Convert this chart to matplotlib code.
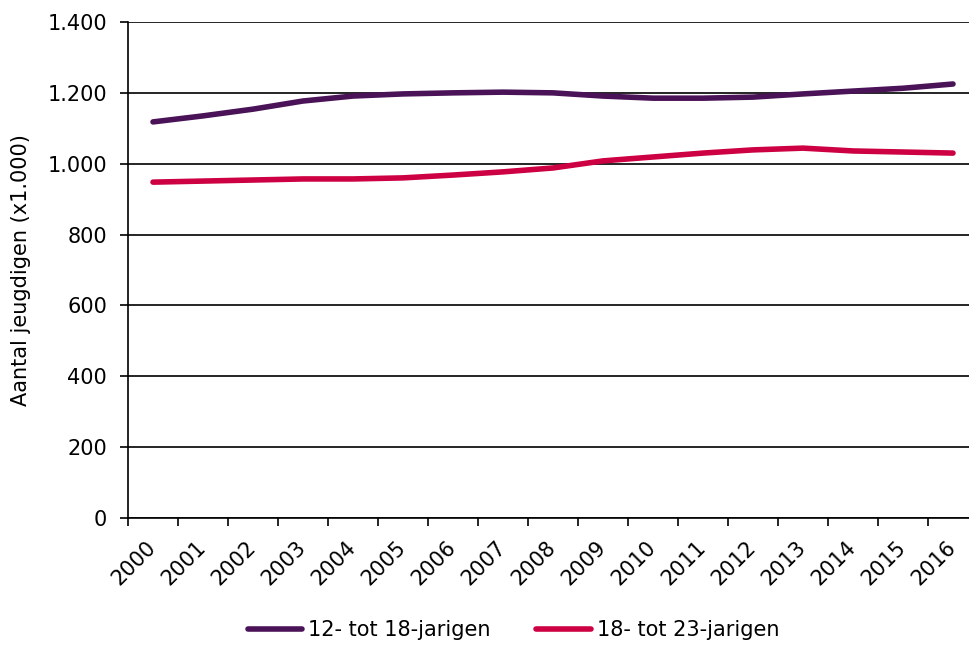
import matplotlib.pyplot as plt
from matplotlib.ticker import FuncFormatter
import numpy as np

# Data (x1.000)
years = [str(y) for y in range(2000, 2017)]
jongeren_12_18 = [1118, 1135, 1154, 1177, 1191, 1197, 1200, 1202, 1200,
                  1191, 1185, 1185, 1188, 1197, 1205, 1213, 1225]
jongeren_18_23 = [948, 951, 954, 957, 957, 960, 968, 977, 988,
                  1008, 1019, 1030, 1039, 1044, 1036, 1033, 1030]
series_labels = ['12- tot 18-jarigen', '18- tot 23-jarigen']
colors = ['#4A1257', '#CC0042']

plt.rcParams['font.family'] = ['DejaVu Sans']
plt.rcParams['font.size'] = 15

fig = plt.figure(figsize=(9.69, 6.45), dpi=100)
ax = fig.add_axes([128 / 969, 1 - 518 / 645, 850 / 969, 496 / 645])

x = np.arange(len(years))
ax.plot(x, jongeren_12_18, color=colors[0], lw=4, solid_capstyle='round',
        label=series_labels[0], zorder=3)
ax.plot(x, jongeren_18_23, color=colors[1], lw=4, solid_capstyle='round',
        label=series_labels[1], zorder=3)

ax.set_xlim(-0.5, len(years) - 0.5)
ax.set_ylim(0, 1400)
ax.set_yticks(np.arange(0, 1401, 200))
ax.yaxis.set_major_formatter(FuncFormatter(lambda v, p: f'{int(v):,}'.replace(',', '.')))
ax.grid(axis='y', color='black', lw=1.2)
ax.set_axisbelow(True)

ax.set_xticks(x)
ax.set_xticklabels(years, rotation=45, ha='right', va='center', rotation_mode='anchor')
ax.set_xticks(np.arange(-0.5, len(years)), minor=True)
ax.tick_params(axis='x', which='major', length=0, pad=19)
ax.tick_params(axis='x', which='minor', length=6, width=1.2, direction='out')
ax.tick_params(axis='y', length=6, width=1.2, direction='out', pad=9)

for s in ['top', 'right']:
    ax.spines[s].set_visible(False)
for s in ['left', 'bottom']:
    ax.spines[s].set_linewidth(1.2)

ax.set_ylabel('Aantal jeugdigen (x1.000)', labelpad=12)

fig.legend(loc='lower center', bbox_to_anchor=(0.53, -0.022), ncol=2, frameon=False,
           handlelength=2.6, columnspacing=2.2, handletextpad=0.3)

fig.savefig('out.png', dpi=100)
